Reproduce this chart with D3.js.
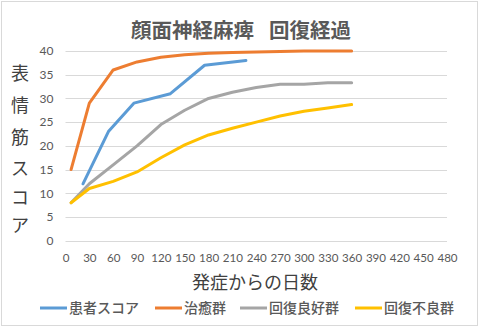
<!DOCTYPE html>
<html><head><meta charset="utf-8">
<script src="https://cdn.jsdelivr.net/npm/d3@7"></script>
<style>
html,body{margin:0;padding:0;background:#fff;}
svg{display:block;}
</style></head>
<body>
<script>
// ---- data ----
const titleLeft = "顔面神経麻痺";
const titleRight = "回復経過";
const xTitle = "発症からの日数";
const yTitle = ["表","情","筋","ス","コ","ア"];
const xTicks = [0,30,60,90,120,150,180,210,240,270,300,330,360,390,420,450,480];
const yTicks = [0,5,10,15,20,25,30,35,40];
const seriesNames = ["患者スコア","治癒群","回復良好群","回復不良群"];
const seriesColors = ["#5B9BD5","#ED7D31","#A5A5A5","#FFC000"];
const patientDays = [22,54,86,132,175,227];
const patientScore = [12,23,29,31,37,38];
const groupDays = [7,30,60,90,120,150,180,210,240,270,300,330,360];
const curedScore = [15,29,36,37.7,38.7,39.2,39.5,39.7,39.8,39.9,40,40,40];
const goodScore = [8,12,16,20,24.5,27.5,30,31.3,32.3,33,33,33.3,33.3];
const poorScore = [8,11,12.5,14.5,17.5,20.2,22.3,23.7,25,26.3,27.3,28,28.7];

const series = [
  {name:seriesNames[0], color:seriesColors[0], pts:patientDays.map((d,i)=>[d,patientScore[i]])},
  {name:seriesNames[1], color:seriesColors[1], pts:groupDays.map((d,i)=>[d,curedScore[i]])},
  {name:seriesNames[2], color:seriesColors[2], pts:groupDays.map((d,i)=>[d,goodScore[i]])},
  {name:seriesNames[3], color:seriesColors[3], pts:groupDays.map((d,i)=>[d,poorScore[i]])}
];

const W=480,H=328;
const svg=d3.select("body").append("svg").attr("width",W).attr("height",H);
svg.append("rect").attr("x",1.5).attr("y",1.5).attr("width",W-4).attr("height",H-4)
  .attr("fill","#fff").attr("stroke","#D9D9D9").attr("stroke-width",1);

const jp = "'Noto Sans CJK JP', sans-serif";
const num = "Lato, 'Liberation Sans', sans-serif";

const x=d3.scaleLinear().domain([0,480]).range([65.5,447]);
const y=d3.scaleLinear().domain([0,40]).range([240.7,51]);

// grid
svg.append("g").selectAll("line").data(yTicks).join("line")
  .attr("x1",x(0)).attr("x2",x(480))
  .attr("y1",d=>Math.round(y(d))+0.5).attr("y2",d=>Math.round(y(d))+0.5)
  .attr("stroke","#D9D9D9").attr("stroke-width",1);

// y axis labels
const ya=svg.append("g").attr("transform",`translate(${x(0)-12},0)`)
  .call(d3.axisLeft(y).tickValues(yTicks).tickSize(0).tickPadding(0));
ya.select(".domain").remove();
ya.selectAll("text").attr("font-family",num).attr("font-size",12).attr("fill","#595959");

// x axis labels
const xa=svg.append("g").attr("transform",`translate(0,${y(0)+13.5})`)
  .call(d3.axisBottom(x).tickValues(xTicks).tickSize(0).tickPadding(0));
xa.select(".domain").remove();
xa.selectAll("text").attr("font-family",num).attr("font-size",11.6).attr("fill","#595959");

// lines
const line=d3.line().x(d=>x(d[0])).y(d=>y(d[1]));
svg.append("g").selectAll("path").data(series).join("path")
  .attr("d",d=>line(d.pts)).attr("fill","none").attr("stroke",d=>d.color)
  .attr("stroke-width",3).attr("stroke-linejoin","round").attr("stroke-linecap","round");

// title
const tt=svg.append("text").attr("x",131).attr("y",37.5)
  .attr("font-family",jp).attr("font-weight","bold").attr("font-size",20.5)
  .attr("fill","#595959");
tt.append("tspan").text(titleLeft);
tt.append("tspan").attr("dx",15).text(titleRight);

// y title (stacked)
svg.append("g").selectAll("text").data(yTitle).join("text")
  .attr("x",20).attr("y",(d,i)=>[73,105,137,168,197,225][i]+7)
  .attr("text-anchor","middle").attr("font-family",jp).attr("font-size",18)
  .attr("fill","#404040").text(d=>d);

// x title
svg.append("text").attr("x",255).attr("y",289).attr("text-anchor","middle")
  .attr("font-family",jp).attr("font-size",18).attr("fill","#404040").text(xTitle);

// legend
const legX=[40,155,240,355];
const lg=svg.append("g").selectAll("g").data(series).join("g")
  .attr("transform",(d,i)=>`translate(${legX[i]},308)`);
lg.append("line").attr("x1",0).attr("x2",27).attr("y1",0).attr("y2",0)
  .attr("stroke",d=>d.color).attr("stroke-width",3);
lg.append("text").attr("x",29).attr("y",5).attr("font-family",jp).attr("font-size",14)
  .attr("font-weight",500).attr("fill","#595959").text(d=>d.name);
</script>
</body></html>
